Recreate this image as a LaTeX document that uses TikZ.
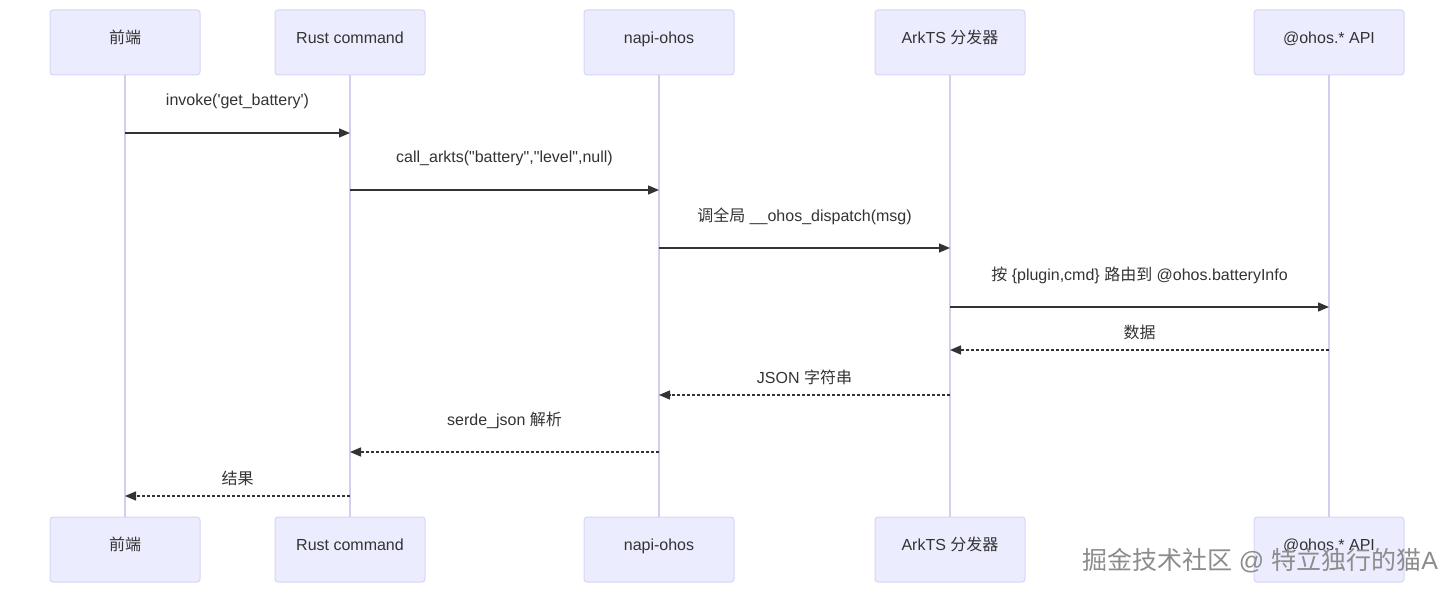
\documentclass[tikz,border=0pt]{standalone}
\usepackage{fontspec}
\setmainfont{Liberation Sans}[Ligatures=TeXOff]
\newfontfamily\cjk{Noto Sans CJK SC}
\usetikzlibrary{arrows.meta}
\definecolor{actfill}{HTML}{ECECFF}
\definecolor{actline}{HTML}{D6D4F7}
\definecolor{lifeline}{HTML}{D2CEEC}
\definecolor{msgcol}{HTML}{333333}
\tikzset{
    actor/.style={draw=actline, fill=actfill, rounded corners=3pt, line width=1pt,
        minimum width=150pt, minimum height=65pt, inner sep=0pt,
        text height=12pt, text depth=10pt, text=msgcol,
        font=\fontsize{16}{19}\selectfont},
    life/.style={draw=lifeline, line width=1.5pt},
    msg/.style={draw=msgcol, line width=1.4pt, -{Triangle[length=11pt,width=9pt]}},
    reply/.style={msg, dash pattern=on 3pt off 2pt},
    msglabel/.style={font=\fontsize{16}{19}\selectfont, text=msgcol, inner sep=0pt}
}
\begin{document}
\begin{tikzpicture}[x=1pt,y=-1pt]
    \useasboundingbox (0,0) rectangle (1454,593);
    % actors, top and bottom
    \node[actor] (fe)   at (125,42.5)  {{\cjk 前端}};
    \node[actor] (rust) at (350,42.5)  {Rust command};
    \node[actor] (napi) at (659,42.5)  {napi-ohos};
    \node[actor] (ark)  at (950,42.5)  {ArkTS {\cjk 分发器}};
    \node[actor] (api)  at (1329,42.5) {@ohos.* API};
    \node[actor] (fe-b)   at (125,549.5)  {{\cjk 前端}};
    \node[actor] (rust-b) at (350,549.5)  {Rust command};
    \node[actor] (napi-b) at (659,549.5)  {napi-ohos};
    \node[actor] (ark-b)  at (950,549.5)  {ArkTS {\cjk 分发器}};
    \node[actor] (api-b)  at (1329,549.5) {@ohos.* API};
    % lifelines
    \draw[life] (fe)   -- (fe-b);
    \draw[life] (rust) -- (rust-b);
    \draw[life] (napi) -- (napi-b);
    \draw[life] (ark)  -- (ark-b);
    \draw[life] (api)  -- (api-b);
    % message rows
    \coordinate (m1) at (0,133);
    \coordinate (m2) at (0,190);
    \coordinate (m3) at (0,248);
    \coordinate (m4) at (0,307);
    \coordinate (m5) at (0,350);
    \coordinate (m6) at (0,395);
    \coordinate (m7) at (0,452);
    \coordinate (m8) at (0,496);
    \draw[msg] (fe |- m1) -- node[msglabel, yshift=32pt] (l1) {invoke('get\_battery')} (rust |- m1);
    \draw[msg] (rust |- m2) -- node[msglabel, yshift=32pt] (l2) {call\_arkts("battery","level",null)} (napi |- m2);
    \draw[msg] (napi |- m3) -- node[msglabel, yshift=32pt] (l3) {{\cjk 调全局} \_\_ohos\_dispatch(msg)} (ark |- m3);
    \draw[msg] (ark |- m4) -- node[msglabel, yshift=32pt] (l4) {{\cjk 按} \{plugin,cmd\} {\cjk 路由到} @ohos.batteryInfo} (api |- m4);
    \draw[reply] (api |- m5) -- node[msglabel, yshift=18pt] (l5) {{\cjk 数据}} (ark |- m5);
    \draw[reply] (ark |- m6) -- node[msglabel, yshift=18pt] (l6) {JSON {\cjk 字符串}} (napi |- m6);
    \draw[reply] (napi |- m7) -- node[msglabel, yshift=32pt] (l7) {serde\_json {\cjk 解析}} (rust |- m7);
    \draw[reply] (rust |- m8) -- node[msglabel, yshift=18pt] (l8) {{\cjk 结果}} (fe |- m8);
    % watermark
    \node[font=\fontsize{25}{29}\selectfont, text=black!45, inner sep=0pt] (mark) at (1260,561) {{\cjk 掘金技术社区} @ {\cjk 特立独行的猫}A};
\end{tikzpicture}
\end{document}
